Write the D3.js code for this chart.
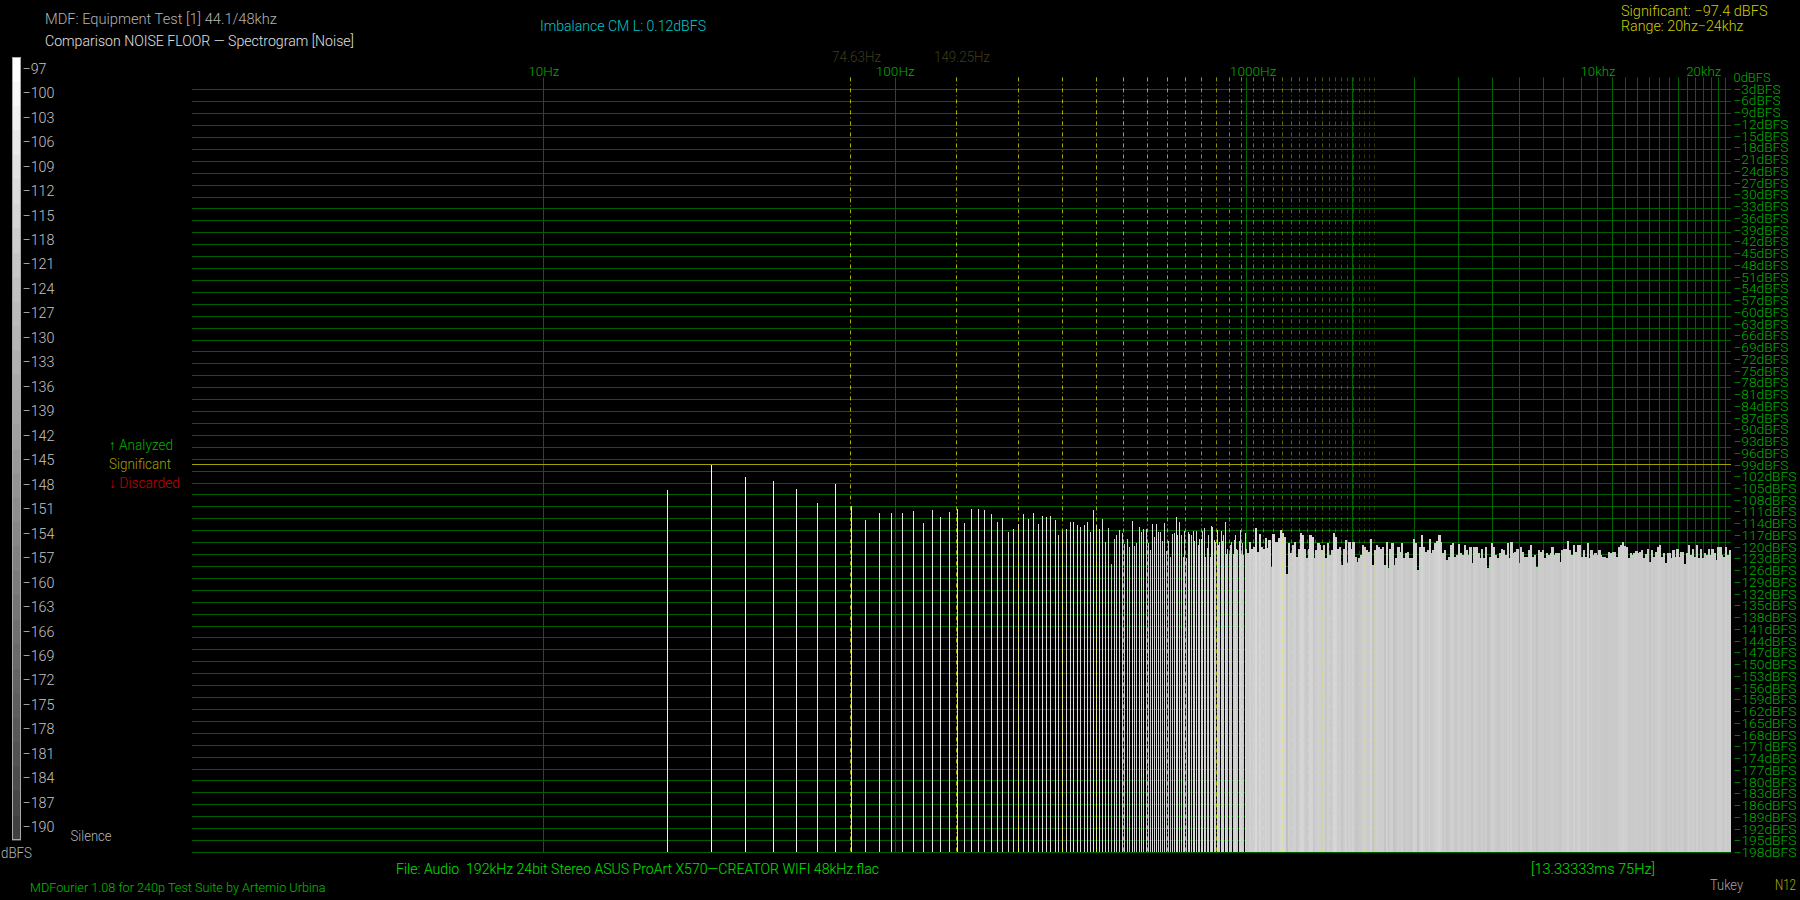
<!DOCTYPE html>
<html><head><meta charset="utf-8">
<style>html,body{margin:0;background:#000;overflow:hidden}svg{display:block}text{font-family:Roboto,"Liberation Sans",sans-serif;font-weight:300}</style>
<script src="https://cdn.jsdelivr.net/npm/d3@7"></script></head><body>
<script>
// ---- data ----
const binHz = 7.5;
const sparseBinStart = 3;
const sparseDb = [-103.9,-97.4,-100.6,-101.6,-103.6,-107.2,-102.4,-107.9,-111.4,-109.7,-109.7,-109.7,-109.2,-112.2,-108.9,-110.7,-109.4,-108.7,-112.2,-108.7,-108.7,-108.9,-109.9,-111.9,-110.9,-114.5,-113.7,-112.4,-109.9,-111.2,-109.7,-112.4,
-110.5,-110.7,-110.5,-111.4,-115.3,-114.2,-113.8,-111.9,-111.9,-112.7,-113.2,-112.7,-111.9,-114.4,-108.9,-112.7,-113.8,-111.2,-117.0,-113.4,-122.5,-116.2,-115.2,-113.9,-114.7,-117.5,-116.2,-118.2,-111.7,-118.0,-117.2,-113.2,-114.4,-113.7,-113.7,-117.2,-119.0,-112.4,-115.7,-112.4,-114.4,-114.4,-116.7,-112.2,-119.2,-116.7,-120.7,-115.0,-114.7,-110.7,-115.2,-111.9,-115.2,-120.7,-114.2,-121.0,-114.4,-115.0,-115.2,-114.2,-116.7,-114.2,-117.7,-116.2,-116.2,-114.2,-113.4,-120.7,-118.5,-115.2,-120.7,-113.0,-113.2,-116.5,-117.0,-113.9,-117.7,-117.0,-114.2,-116.7,-115.2,-111.9,-120.0,-118.7,-120.0,-117.7,-117.0,-120.0,-116.5,-115.2,-118.7,-119.0,-116.7,-113.9,-120.0,-117.3,-120.2,-114.8,-118.6];
const denseStartX = 1247;
const denseDb = [
-119.8,-116.9,-118.6,-118.1,-113.4,-119.4,-115.0,-118.1,-118.6,-116.0,-118.4,-116.5,-123.2,-115.0,-116.9,-116.9,-116.0,-113.9,-114.8,-115.6,-125.1,-117.3,-119.8,-117.7,-116.9,-120.7,-118.6,-114.8,-115.2,-118.6,-121.1,-118.6,-115.2,-115.6,-121.1,-119.0,-117.3,-117.7,-119.0,-117.7,-121.1,-117.3,-120.2,-119.0,-114.8,-115.6,-118.6,-118.1,-122.8,-118.6,-116.5,-122.3,-116.9,-118.6,-116.9,-120.7,-121.9,-121.1,-120.2,-117.7,-118.1,-119.0,-119.4,-116.2,-122.8,-119.0,-117.7,-118.1,-118.6,-118.1,-122.8,-116.9,-123.6,-118.6,-117.3,-122.8,-121.1,-118.1,-119.4,-117.3,-121.1,-119.8,-119.4,-121.1,
-121.1,-116.2,-117.3,-124.0,-118.1,-115.2,-118.1,-119.4,-119.0,-116.2,-119.8,-119.0,-117.3,-116.7,-115.2,-117.0,-119.8,-119.0,-121.5,-120.7,-117.7,-117.3,-120.7,-120.2,-117.5,-119.8,-120.2,-117.7,-119.0,-120.2,-118.3,-122.3,-118.3,-118.3,-119.8,-120.9,-118.6,-120.9,-118.3,-123.4,-120.7,-117.3,-118.1,-120.2,-121.1,-119.8,-118.6,-119.0,-120.2,-117.3,-121.1,-117.0,-119.8,-119.4,-118.6,-122.3,-118.1,-119.4,-120.7,-120.7,-119.0,-117.6,-120.7,-120.2,-123.2,-119.0,-119.4,-119.0,-121.1,-119.8,-120.2,-119.8,-118.3,-120.2,-119.8,-119.8,-121.9,-119.0,-118.7,-118.6,-116.7,-119.0,-120.2,-117.6,-119.4,
-117.6,-117.7,-120.7,-119.0,-120.7,-117.3,-121.1,-119.0,-120.2,-119.8,-120.2,-119.0,-120.2,-120.7,-120.7,-121.1,-119.4,-119.8,-119.6,-119.4,-120.7,-118.1,-117.7,-117.0,-117.9,-118.1,-121.1,-119.8,-120.2,-119.8,-119.1,-119.8,-119.6,-119.0,-121.1,-120.1,-118.6,-121.9,-119.0,-120.7,-119.4,-118.1,-117.7,-120.7,-119.8,-122.3,-119.8,-119.8,-121.1,-119.0,-120.7,-118.6,-120.7,-119.4,-119.4,-122.6,-119.8,-117.7,-120.2,-118.6,-120.7,-117.7,-121.1,-118.6,-121.1,-119.8,-120.2,-118.6,-120.2,-118.6,-119.8,-121.5,-118.1,-118.1,-120.2,-120.7,-118.1,-120.2,-119.0];
const significantDb = -97.4;
const harmonicBaseHz = 74.63;
const harmonicCount = 31;
const freqTicks = [10,100,1000,10000,20000];
const freqTickLabels = ["10Hz","100Hz","1000Hz","10khz","20khz"];
const freqGrid = [10,100,1000,2000,3000,4000,5000,6000,7000,8000,9000,10000,11000,12000,13000,14000,15000,16000,17000,18000,19000,20000,21000,22000,23000];
const gridDb = d3.range(-3,-196,-3);
const axisDbLabels = d3.range(0,-199,-3);
const colorbarDb = d3.range(-97,-191,-3);

// ---- scales ----
const W=1800,H=900,L=192,R=1731,TOP=77.4,BOT=852;
const x=d3.scaleLog().domain([1,24000]).range([L,R]);
const y=d3.scaleLinear().domain([0,-195]).range([TOP,BOT]);
const yLabel=d3.scaleLinear().domain([0,-198]).range([77.3,852.7]);
const tone=d3.scaleLinear().domain([-97,-120,-190]).range(["#ffffff","#cacaca","#404040"]).clamp(true);
const cb=d3.scaleBand().domain(colorbarDb).range([57,840]);
const harmonicAlpha=d3.scaleLinear().domain([1,8,16,31]).range([.68,.66,.42,.18]);

const svg=d3.select("body").append("svg").attr("width",W).attr("height",H).style("background","#000");
function text(t,xp,yp,color,width,size=14,anchor="start"){
  const e=svg.append("text").text(t).attr("x",xp).attr("y",yp).attr("fill",color)
    .attr("font-size",size).attr("dominant-baseline","central").attr("text-anchor",anchor);
  if(width) e.attr("textLength",width).attr("lengthAdjust","spacingAndGlyphs");
  return e;
}

// grid
svg.append("g").selectAll("line").data(gridDb).join("line")
 .attr("x1",L).attr("x2",R).attr("y1",d=>Math.round(y(d))+.5).attr("y2",d=>Math.round(y(d))+.5)
 .attr("stroke","#006000");
svg.append("g").selectAll("line").data(freqGrid).join("line")
 .attr("x1",d=>Math.round(x(d))+.5).attr("x2",d=>Math.round(x(d))+.5).attr("y1",TOP).attr("y2",BOT)
 .attr("stroke","#006400");

// bars
const sparse=sparseDb.map((v,i)=>({hz:(i+sparseBinStart)*binHz,v}));
const denseStep=(R-denseStartX)/denseDb.length;
const dense=denseDb.map((v,i)=>({hz:x.invert(denseStartX+i*denseStep),v}));
svg.append("g").attr("shape-rendering","crispEdges").selectAll("rect").data(sparse).join("rect")
 .attr("x",d=>Math.round(x(d.hz))).attr("width",1)
 .attr("y",d=>y(d.v)).attr("height",d=>BOT-y(d.v)).attr("fill",d=>tone(d.v));
svg.append("g").attr("shape-rendering","crispEdges").selectAll("rect").data(dense).join("rect")
 .attr("x",d=>x(d.hz)).attr("width",denseStep+.3)
 .attr("y",d=>y(d.v)).attr("height",d=>BOT-y(d.v)).attr("fill",d=>tone(d.v));

// harmonic markers
svg.append("g").selectAll("line").data(d3.range(1,harmonicCount+1)).join("line")
 .attr("x1",n=>Math.round(x(n*harmonicBaseHz))+.5).attr("x2",n=>Math.round(x(n*harmonicBaseHz))+.5)
 .attr("y1",TOP).attr("y2",BOT).attr("stroke","#ffff00").attr("stroke-opacity",harmonicAlpha).attr("stroke-dasharray","4,3,1,3");

// significant line
svg.append("line").attr("x1",L).attr("x2",R).attr("y1",Math.round(y(significantDb))+.5).attr("y2",Math.round(y(significantDb))+.5).attr("stroke","#a0a000");

// frequency axis labels
const topAxis=d3.axisTop(x).tickValues(freqTicks).tickFormat((d,i)=>freqTickLabels[i]).tickSize(0).tickPadding(0);
const gTop=svg.append("g").attr("transform","translate(0,71)").call(topAxis);
gTop.select(".domain").remove();
gTop.attr("font-family",null).selectAll("text").attr("fill","#00b000").attr("font-size",13.5).attr("dy",null).attr("dominant-baseline","central")
 .attr("dx",d=>d===1000?6.5:0)
 .attr("textLength",(d,i)=>freqTickLabels[i].length*(i<3?7.75:7)).attr("lengthAdjust","spacingAndGlyphs");

// dB axis labels on the right
const rightAxis=d3.axisRight(yLabel).tickValues(axisDbLabels).tickFormat(d=>(d===0?"0":"\u2212"+(-d))+"dBFS").tickSize(0).tickPadding(0);
const gRight=svg.append("g").attr("transform","translate(1733.5,0)").call(rightAxis);
gRight.select(".domain").remove();
gRight.attr("font-family",null).selectAll("text").attr("fill","#00b000").attr("font-size",12).attr("dy",null).attr("dominant-baseline","central")
 .attr("textLength",d=>d===0?37:(d>-10?47:(d>-100?55:63))).attr("lengthAdjust","spacingAndGlyphs");

// colour bar
svg.append("g").attr("shape-rendering","crispEdges").selectAll("rect").data(colorbarDb).join("rect")
 .attr("x",12).attr("width",9).attr("y",d=>cb(d)).attr("height",cb.bandwidth()+.5).attr("fill",d=>tone(d));
svg.append("rect").attr("x",12.5).attr("y",57.5).attr("width",8).attr("height",782).attr("fill","none").attr("stroke","#a8a8a8").attr("shape-rendering","crispEdges");
const cbAxis=d3.axisRight(cb).tickFormat(d=>"\u2212"+(-d)).tickSize(0).tickPadding(0);
const gCb=svg.append("g").attr("transform","translate(22.5,0)").call(cbAxis);
gCb.select(".domain").remove();
gCb.attr("font-family",null).selectAll("text").attr("fill","#c4c4c4").attr("font-size",14.5).attr("dy",null).attr("dominant-baseline","central")
 .attr("textLength",d=>d>-100?24:32).attr("lengthAdjust","spacingAndGlyphs");

// captions
text("MDF: Equipment Test [1] 44.1/48khz",45,18.7,"#b4b4b4",232);
text("Comparison NOISE FLOOR \u2014 Spectrogram [Noise]",45,41,"#e0e0e0",309);
text("Imbalance CM L: 0.12dBFS",540,26,"#00c8c8",166);
text("Significant: \u221297.4 dBFS",1621,10.7,"#cccc00",146.5);
text("Range: 20hz\u221224khz",1621,26,"#cccc00",122.5);
text("74.63Hz",832,57.3,"#3e3e1c",49);
text("149.25Hz",934,57.3,"#3e3e1c",56);
text("\u2191 Analyzed",109,445,"#00b000",64);
text("Significant",109,464.3,"#a0a000",62);
text("\u2193 Discarded",109,483.3,"#c80000",71);
text("Silence",70.6,836,"#b4b4b4",41);
text("dBFS",1,852.7,"#b4b4b4",31);
text("File: Audio  192kHz 24bit Stereo ASUS ProArt X570\u2014CREATOR WIFI 48kHz.flac",396,869.3,"#00e000",483).attr("xml:space","preserve");
text("[13.33333ms 75Hz]",1531,869.3,"#00e000",124);
text("MDFourier 1.08 for 240p Test Suite by Artemio Urbina",30,888,"#00c000",295.5,12);
text("Tukey",1710,885,"#a8a8a8",33);
text("N12",1775,885,"#b0b000",21);
</script></body></html>
